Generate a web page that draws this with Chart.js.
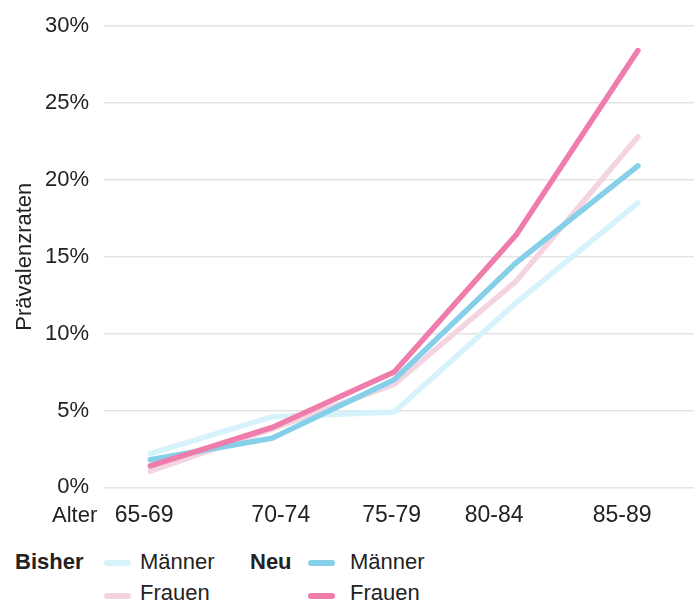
<!DOCTYPE html>
<html>
<head>
<meta charset="utf-8">
<script src="https://cdn.jsdelivr.net/npm/chart.js@4"></script>
<style>
    html, body { margin: 0; padding: 0; background: #fff; }
    #wrap { position: relative; width: 697px; height: 604px; font-family: "Liberation Sans", Arial, sans-serif; color: #222; }
    #box { position: absolute; left: 0; top: 0; width: 697px; height: 547px; }
    .t { position: absolute; font-size: 22px; line-height: 26px; white-space: nowrap; }
    .b { font-weight: bold; }
    .sw { position: absolute; width: 27px; height: 6px; border-radius: 3px; }
</style>
</head>
<body>
<div id="wrap">
    <div id="box"><canvas id="chart"></canvas></div>
    <div class="t" style="left:52px; top:502px;">Alter</div>

    <div class="t b" style="left:15px; top:549px;">Bisher</div>
    <div class="sw" style="left:104px; top:560px; background:#d6f3fc;"></div>
    <div class="t" style="left:140px; top:549px;">Männer</div>
    <div class="sw" style="left:104px; top:593px; background:#f4d4e1;"></div>
    <div class="t" style="left:140px; top:580px;">Frauen</div>

    <div class="t b" style="left:250px; top:549px;">Neu</div>
    <div class="sw" style="left:308px; top:560px; background:#86cfe9;"></div>
    <div class="t" style="left:350px; top:549px;">Männer</div>
    <div class="sw" style="left:308px; top:593px; background:#ee7dab;"></div>
    <div class="t" style="left:350px; top:580px;">Frauen</div>
</div>
<script>
// Altersgruppen und Prävalenzraten in %
const altersgruppen = ['65-69', '70-74', '75-79', '80-84', '85-89'];
const bisherMaenner = [2.2, 4.6, 4.9, 12.0, 18.5];
const bisherFrauen  = [1.05, 3.8, 6.7, 13.4, 22.8];
const neuMaenner    = [1.8, 3.2, 7.0, 14.6, 20.9];
const neuFrauen     = [1.4, 3.9, 7.5, 16.4, 28.4];
const yTicks = [0, 5, 10, 15, 20, 25, 30];

// Beschriftungen stehen im Original nicht genau unter den Punkten
const labelNudge = [-0.05, 0.07, -0.02, -0.18, -0.13];

const toPoints = arr => arr.map((v, i) => ({ x: i, y: v }));

const line = (label, values, color) => ({
    label: label,
    data: toPoints(values),
    borderColor: color,
    backgroundColor: color,
    borderWidth: 5.5,
    borderCapStyle: 'round',
    borderJoinStyle: 'miter',
    pointRadius: 0,
    tension: 0
});

new Chart(document.getElementById('chart'), {
    type: 'line',
    data: {
        datasets: [
            line('Neu Frauen', neuFrauen, '#ee7dab'),
            line('Neu Männer', neuMaenner, '#86cfe9'),
            line('Bisher Frauen', bisherFrauen, '#f4d4e1'),
            line('Bisher Männer', bisherMaenner, '#d6f3fc')
        ]
    },
    options: {
        responsive: true,
        maintainAspectRatio: false,
        animation: false,
        layout: { padding: { top: 0, right: 3, bottom: 12, left: 0 } },
        plugins: { legend: { display: false }, tooltip: { enabled: false } },
        scales: {
            x: {
                type: 'linear',
                min: -0.38,
                max: 4.46,
                grid: { display: false },
                border: { display: false },
                afterBuildTicks: scale => {
                    scale.ticks = altersgruppen.map((c, i) => ({ value: i + labelNudge[i] }));
                },
                ticks: {
                    autoSkip: false,
                    maxRotation: 0,
                    padding: 6,
                    color: '#222',
                    font: { family: 'Liberation Sans', size: 23 },
                    callback: (v, i) => altersgruppen[i]
                }
            },
            y: {
                min: 0,
                max: 30,
                afterFit: scale => { scale.width = 104; },
                afterBuildTicks: scale => {
                    scale.ticks = yTicks.map(v => ({ value: v }));
                },
                grid: { color: '#e4e4e4', lineWidth: 1.5, drawTicks: false },
                border: { display: false },
                ticks: {
                    padding: 15,
                    color: '#222',
                    font: { family: 'Liberation Sans', size: 22, lineHeight: 1.0 },
                    callback: v => v + '%'
                },
                title: {
                    display: true,
                    text: 'Prävalenzraten',
                    color: '#222',
                    font: { family: 'Liberation Sans', size: 22 },
                    padding: { top: 12, bottom: 0 }
                }
            }
        }
    }
});
</script>
</body>
</html>
